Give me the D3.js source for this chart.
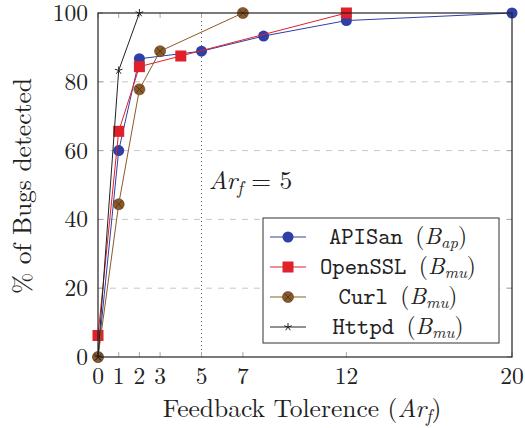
<!DOCTYPE html>
<html>
<head>
<meta charset="utf-8">
<script src="https://cdn.jsdelivr.net/npm/d3@7"></script>
<style>
  body { margin: 0; background: #fff; }
</style>
</head>
<body>
<div id="chart"></div>
<script>
const xTicks = [0, 1, 2, 3, 5, 7, 12, 20];
const yTicks = [0, 20, 40, 60, 80, 100];

const apisanX = [0, 1, 2, 5, 8, 12, 20];
const apisanY = [0, 60, 86.7, 88.9, 93.3, 97.8, 100];
const opensslX = [0, 1, 2, 4, 12];
const opensslY = [6.25, 65.6, 84.4, 87.5, 100];
const curlX = [0, 1, 2, 3, 7];
const curlY = [0, 44.4, 77.8, 88.9, 100];
const httpdX = [0, 1, 2];
const httpdY = [0, 83.3, 100];

const seriesNames = ["APISan", "OpenSSL", "Curl", "Httpd"];
const seriesSubs = ["ap", "mu", "mu", "mu"];

const serif = '"Latin Modern Roman", "CMU Serif", "Liberation Serif", serif';
const mono = '"Latin Modern Mono", "CMU Typewriter Text", "Liberation Mono", monospace';

const width = 525, height = 428;
const margin = { t: 13, r: 13, b: 71, l: 98 };
const w = width - margin.l - margin.r;
const h = height - margin.t - margin.b;

const svg = d3.select("#chart").append("svg")
  .attr("width", width).attr("height", height);
const g = svg.append("g").attr("transform", `translate(${margin.l},${margin.t})`);

const x = d3.scaleLinear().domain([0, 20]).range([0, w]);
const y = d3.scaleLinear().domain([0, 100]).range([h, 0]);

// dashed horizontal grid
g.selectAll(".grid").data(yTicks.filter(d => d > 0 && d < 100)).join("line")
  .attr("x1", 0).attr("x2", w)
  .attr("y1", d => y(d)).attr("y2", d => y(d))
  .attr("stroke", "#c8c8c8").attr("stroke-dasharray", "6,6").attr("stroke-width", 1);

// dotted line at Ar_f = 5
g.append("line")
  .attr("x1", x(5)).attr("x2", x(5)).attr("y1", 0).attr("y2", h)
  .attr("stroke", "#555").attr("stroke-dasharray", "1,3").attr("stroke-width", 1);

// inward ticks (mirrored)
const tickLen = 5;
xTicks.forEach(t => {
  g.append("line").attr("x1", x(t)).attr("x2", x(t)).attr("y1", h).attr("y2", h - tickLen)
    .attr("stroke", "#aaa");
  g.append("line").attr("x1", x(t)).attr("x2", x(t)).attr("y1", 0).attr("y2", tickLen)
    .attr("stroke", "#aaa");
});
yTicks.forEach(t => {
  g.append("line").attr("x1", 0).attr("x2", tickLen).attr("y1", y(t)).attr("y2", y(t))
    .attr("stroke", "#aaa");
  g.append("line").attr("x1", w - tickLen).attr("x2", w).attr("y1", y(t)).attr("y2", y(t))
    .attr("stroke", "#aaa");
});

// tick labels
g.selectAll(".xl").data(xTicks).join("text")
  .style("font-family", serif).attr("fill", "#222")
  .attr("x", d => x(d)).attr("y", h + 27)
  .attr("text-anchor", "middle").attr("font-size", 23.5).text(d => d);
g.selectAll(".yl").data(yTicks).join("text")
  .style("font-family", serif).attr("fill", "#222")
  .attr("x", -10).attr("y", d => y(d) + 8)
  .attr("text-anchor", "end").attr("font-size", 23.5).text(d => d);

// axis labels
g.append("text").attr("x", 302 - margin.l).attr("y", 417 - margin.t).attr("text-anchor", "middle")
  .style("font-family", serif).attr("fill", "#222").attr("font-size", 25.5)
  .html('Feedback Tolerence (<tspan font-style="italic">Ar</tspan><tspan font-style="italic" font-size="18" dy="5">f</tspan><tspan dy="-5">)</tspan>');
svg.append("text")
  .attr("transform", `translate(31,${margin.t + h / 2 + 1}) rotate(-90)`)
  .style("font-family", serif).attr("fill", "#222")
  .attr("text-anchor", "middle").attr("font-size", 25.5)
  .text("% of Bugs detected");

// annotation
g.append("text").attr("x", x(5.35)).attr("y", 189 - margin.t).attr("font-size", 25.5)
  .style("font-family", serif).attr("fill", "#222")
  .html('<tspan font-style="italic">Ar</tspan><tspan font-style="italic" font-size="18" dy="5">f</tspan><tspan dy="-5"> = 5</tspan>');

const series = [
  { xs: apisanX, ys: apisanY, color: "#2e3fa6", marker: "circle" },
  { xs: opensslX, ys: opensslY, color: "#e0202a", marker: "square" },
  { xs: curlX, ys: curlY, color: "#8b5a2b", marker: "otimes" },
  { xs: httpdX, ys: httpdY, color: "#222", marker: "star" }
];

const line = d3.line().x(d => x(d[0])).y(d => y(d[1]));

function drawMarker(sel, type, color) {
  if (type === "circle") {
    sel.append("circle").attr("r", 5.5).attr("fill", color);
  } else if (type === "square") {
    sel.append("rect").attr("x", -5.5).attr("y", -5.5).attr("width", 11).attr("height", 11)
      .attr("fill", color);
  } else if (type === "otimes") {
    sel.append("circle").attr("r", 5.5).attr("fill", color).attr("stroke", "#5a3a1a").attr("stroke-width", 0.6);
    sel.append("path").attr("d", "M-3.8,-3.8L3.8,3.8M-3.8,3.8L3.8,-3.8")
      .attr("stroke", "#4a2e10").attr("stroke-width", 0.8);
  } else if (type === "star") {
    const r = 4;
    let d = "";
    for (let i = 0; i < 5; i++) {
      const a = -Math.PI / 2 + i * 2 * Math.PI / 5;
      d += `M0,0L${(r * Math.cos(a)).toFixed(2)},${(r * Math.sin(a)).toFixed(2)}`;
    }
    sel.append("path").attr("d", d).attr("stroke", color).attr("stroke-width", 1).attr("fill", "none");
  }
}

series.forEach(s => {
  const pts = s.xs.map((v, i) => [v, s.ys[i]]);
  g.append("path").datum(pts).attr("d", line)
    .attr("fill", "none").attr("stroke", s.color).attr("stroke-width", 1);
  pts.forEach(p => {
    const m = g.append("g").attr("transform", `translate(${x(p[0])},${y(p[1])})`);
    drawMarker(m, s.marker, s.color);
  });
});

// frame
g.append("rect").attr("x", 0).attr("y", 0).attr("width", w).attr("height", h)
  .attr("fill", "none").attr("stroke", "#222").attr("stroke-width", 1.2);

// legend
const lg = svg.append("g").attr("transform", "translate(263,218)");
lg.append("rect").attr("width", 236).attr("height", 125)
  .attr("fill", "#fff").attr("stroke", "#333").attr("stroke-width", 1);
series.forEach((s, i) => {
  const yy = 19 + i * 30;
  const row = lg.append("g").attr("transform", `translate(0,${yy})`);
  row.append("line").attr("x1", 7).attr("x2", 43).attr("stroke", s.color).attr("stroke-width", 1);
  drawMarker(row.append("g").attr("transform", "translate(25,0)"), s.marker, s.color);
  const t = row.append("text").attr("x", 135).attr("y", 7).attr("text-anchor", "middle")
    .style("font-family", serif).attr("fill", "#222").attr("font-size", 23.5);
  t.append("tspan").style("font-family", mono).text(seriesNames[i] + " ");
  t.append("tspan").text("(");
  t.append("tspan").attr("font-style", "italic").text("B");
  t.append("tspan").attr("font-style", "italic").attr("font-size", 16.5).attr("dy", 3.5).text(seriesSubs[i]);
  t.append("tspan").attr("dy", -3.5).text(")");
});
</script>
</body>
</html>
